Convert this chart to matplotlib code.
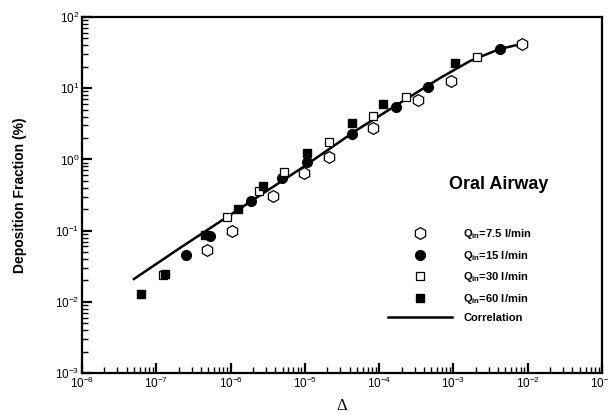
import matplotlib
matplotlib.use("Agg")
import matplotlib.pyplot as plt
from matplotlib.ticker import LogLocator, NullFormatter

plt.rcParams['font.family'] = ['Liberation Sans', 'DejaVu Sans']
plt.rcParams['mathtext.default'] = 'regular'

# deposition data per inhalation flow rate (Delta, DF %)
delta_75 = [4.8e-7, 1.04e-6, 3.7e-6, 9.7e-6, 2.1e-5, 8.2e-5, 3.3e-4, 9.2e-4, 8.4e-3]
df_75 = [0.053, 0.10, 0.31, 0.64, 1.08, 2.76, 6.8, 12.6, 41.8]

delta_15 = [2.5e-7, 5.3e-7, 1.88e-6, 4.9e-6, 1.07e-5, 4.3e-5, 1.68e-4, 4.5e-4, 4.2e-3]
df_15 = [0.045, 0.084, 0.26, 0.55, 0.92, 2.28, 5.45, 10.4, 35.6]

delta_30 = [1.23e-7, 8.9e-7, 2.4e-6, 5.2e-6, 2.1e-5, 8.2e-5, 2.3e-4, 2.07e-3]
df_30 = [0.0238, 0.155, 0.36, 0.67, 1.75, 4.07, 7.5, 27.4]

delta_60 = [6.2e-8, 1.31e-7, 4.5e-7, 1.26e-6, 2.73e-6, 1.07e-5, 4.3e-5, 1.12e-4, 1.05e-3]
df_60 = [0.0129, 0.0245, 0.0867, 0.20, 0.42, 1.23, 3.24, 6.0, 22.6]

# correlation curve
delta_corr = [5.0e-8, 2.08e-7, 2.0e-6, 8.6e-6, 5.0e-5, 1.9e-4, 6.6e-4, 1.67e-3, 4.2e-3, 6.7e-3, 9.7e-3]
df_corr = [0.0209, 0.057, 0.269, 0.73, 2.59, 6.2, 13.9, 24.1, 35.6, 39.8, 41.8]

fig = plt.figure(figsize=(6.08, 4.15), dpi=100)
ax = fig.add_axes([0.1349, 0.1012, 0.8553, 0.8578])

ax.plot(delta_corr, df_corr, color='black', lw=1.8, label='Correlation', zorder=2)
ax.plot(delta_75, df_75, 'h', ms=8.5, mfc='white', mec='black', mew=0.9, ls='none',
        label=r'$Q_{in}$=7.5 l/min', zorder=3)
ax.plot(delta_15, df_15, 'o', ms=7, mfc='black', mec='black', ls='none',
        label=r'$Q_{in}$=15 l/min', zorder=3)
ax.plot(delta_30, df_30, 's', ms=6, mfc='white', mec='black', mew=0.9, ls='none',
        label=r'$Q_{in}$=30 l/min', zorder=3)
ax.plot(delta_60, df_60, 's', ms=6, mfc='black', mec='black', ls='none',
        label=r'$Q_{in}$=60 l/min', zorder=3)

ax.set_xscale('log')
ax.set_yscale('log')
ax.set_xlim(1e-8, 1e-1)
ax.set_ylim(1e-3, 1e2)

for s in ax.spines.values():
    s.set_linewidth(1.6)

ax.xaxis.set_major_locator(LogLocator(base=10, numticks=20))
ax.yaxis.set_major_locator(LogLocator(base=10, numticks=20))
ax.xaxis.set_minor_locator(LogLocator(base=10, subs=range(2, 10), numticks=20))
ax.yaxis.set_minor_locator(LogLocator(base=10, subs=range(2, 10), numticks=20))
ax.xaxis.set_minor_formatter(NullFormatter())
ax.yaxis.set_minor_formatter(NullFormatter())
ax.tick_params(which='major', direction='in', length=7, width=1.6, labelsize=8.5,
               top=False, right=False, pad=2)
ax.tick_params(which='minor', direction='in', length=4, width=1.0, top=False, right=False)

ax.set_ylabel('Deposition Fraction (%)', fontsize=10, fontweight='bold', labelpad=20)
ax.set_xlabel('Δ', fontsize=12, family=['Liberation Serif', 'DejaVu Serif'], labelpad=5)

ax.text(0.705, 0.53, 'Oral Airway', transform=ax.transAxes, fontsize=13,
        fontweight='bold', ha='left', va='center')

h, l = ax.get_legend_handles_labels()
order = [1, 2, 3, 4, 0]
leg = ax.legend([h[i] for i in order], [l[i] for i in order], loc='upper left',
                bbox_to_anchor=(0.588, 0.41), frameon=False, fontsize=8,
                handlelength=5.8, handletextpad=1.0, labelspacing=0.68,
                borderaxespad=0, borderpad=0)
for t in leg.get_texts():
    t.set_fontweight('bold')

fig.savefig('out.png', dpi=100)
